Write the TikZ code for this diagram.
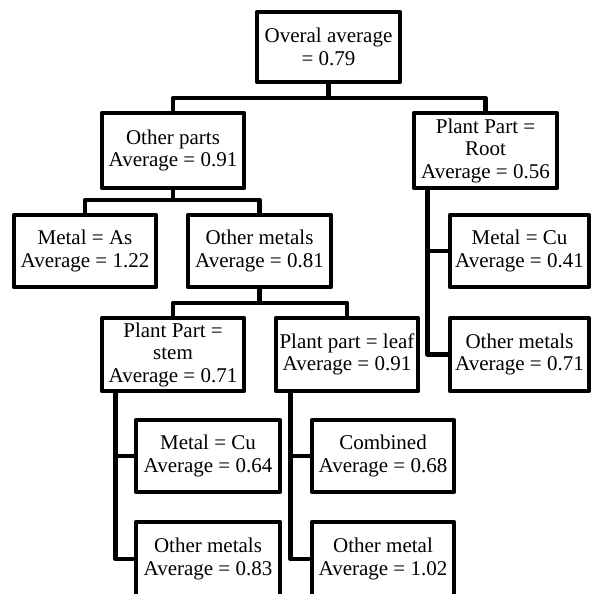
\documentclass[tikz,border=0pt]{standalone}
\usepackage{fontspec}
\setmainfont{Liberation Serif}
\newfontfamily\tnrfont{Liberation Serif}
\begin{document}
\begin{tikzpicture}[x=1pt,y=-1pt,
  box/.style={draw, line width=4.5pt, line join=round, align=center, inner sep=0pt,
    font=\tnrfont\fontsize{21}{22.5}\selectfont},
  link/.style={line width=4.5pt, line join=round}]
\useasboundingbox (0,0) rectangle (593,594);
\clip (0,0) rectangle (593,594);
% nodes
\node[box, minimum width=143pt, minimum height=70pt] (root) at (328.5,47) {Overal average\\= 0.79};
\node[box, minimum width=142pt, minimum height=75pt] (op) at (173,150.5) {Other parts\\Average = 0.91};
\node[box, minimum width=143pt, minimum height=75pt] (pr) at (485.5,150.5) {Plant Part =\\Root\\Average = 0.56};
\node[box, minimum width=142pt, minimum height=72pt] (as) at (85,251) {Metal = As\\Average = 1.22};
\node[box, minimum width=143pt, minimum height=72pt] (om) at (259.5,251) {Other metals\\Average = 0.81};
\node[box, minimum width=139pt, minimum height=72pt] (cuA) at (519.5,251) {Metal = Cu\\Average = 0.41};
\node[box, minimum width=139pt, minimum height=73pt] (omB) at (519.5,354.5) {Other metals\\Average = 0.71};
\node[box, minimum width=142pt, minimum height=73pt] (stem) at (173,354.5) {Plant Part =\\stem\\Average = 0.71};
\node[box, minimum width=142pt, minimum height=73pt] (leaf) at (347,354.5) {Plant part = leaf\\Average = 0.91};
\node[box, minimum width=144pt, minimum height=72pt] (cuB) at (208,456) {Metal = Cu\\Average = 0.64};
\node[box, minimum width=142pt, minimum height=72pt] (comb) at (383,456) {Combined\\Average = 0.68};
\node[box, minimum width=144pt, minimum height=74pt] (omC) at (208,559) {Other metals\\Average = 0.83};
\node[box, minimum width=142pt, minimum height=74pt] (omD) at (383,559) {Other metal\\Average = 1.02};
% junctions
\coordinate (j1) at (328.5,98);
\coordinate (j2) at (173,200);
\coordinate (j3) at (259.5,303);
\coordinate (r1) at (427.5,188);
\coordinate (s1) at (115.5,391);
\coordinate (l1) at (290.5,391);
% connectors
\draw[link] (root.south) -- (j1);
\draw[link] (op.north) |- (j1) -| (pr.north);
\draw[link] (op.south) -- (j2);
\draw[link] (as.north) |- (j2) -| (om.north);
\draw[link] (om.south) -- (j3);
\draw[link] (stem.north) |- (j3) -| (leaf.north);
\draw[link] (r1) |- (cuA.west);
\draw[link] (r1) |- (omB.west);
\draw[link] (s1) |- (cuB.west);
\draw[link] (s1) |- (omC.west);
\draw[link] (l1) |- (comb.west);
\draw[link] (l1) |- (omD.west);
\end{tikzpicture}
\end{document}
